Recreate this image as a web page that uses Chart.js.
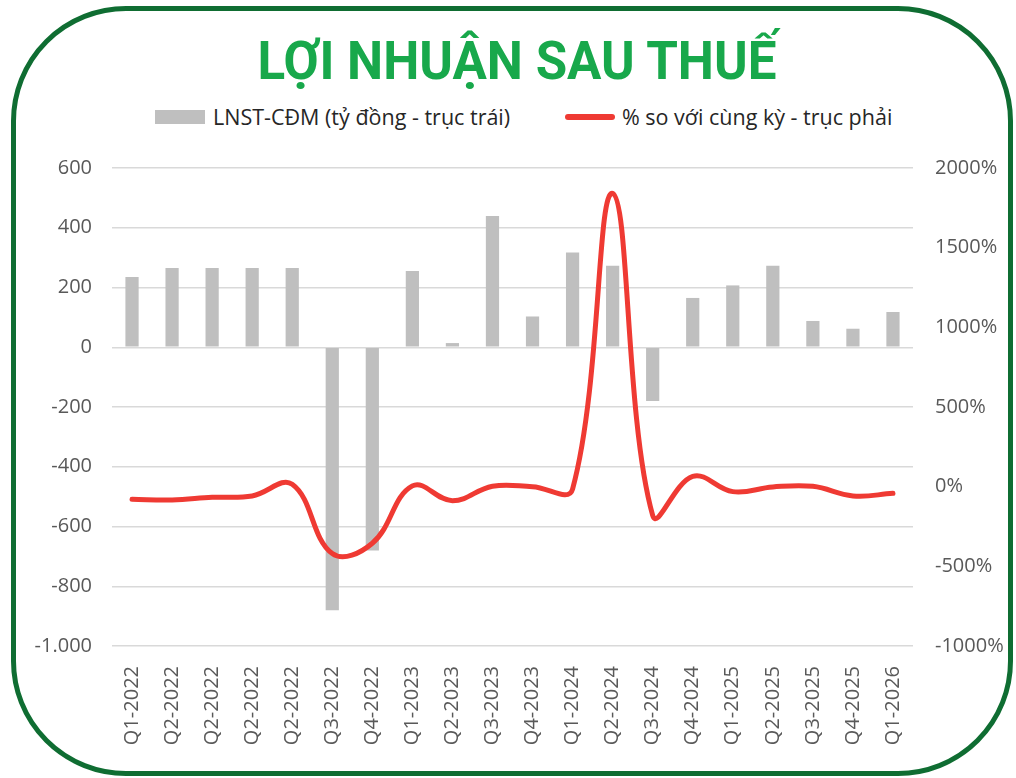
<!DOCTYPE html>
<html lang="vi">
<head>
  <meta charset="UTF-8">
  <title>Lợi nhuận sau thuế</title>
  <script src="https://cdn.jsdelivr.net/npm/chart.js"></script>
  <style>
  html, body {
    margin: 0;
    padding: 0;
    background: #ffffff;
  }
  #page {
    position: relative;
    width: 1016px;
    height: 778px;
    overflow: hidden;
  }
  /* green rounded frame */
  #frame {
    position: absolute;
    left: 11px;
    top: 6px;
    width: 1002px;
    height: 770px;
    box-sizing: border-box;
    border: 5px solid #0f6d32;
    border-radius: 115px;
  }
  #title {
    position: absolute;
    left: 9px;
    top: 29px;
    width: 1016px;
    text-align: center;
    font-family: Roboto, sans-serif;
    font-weight: 700;
    font-size: 53px;
    line-height: 64px;
    color: #18a84b;
  }
  #title span {
    display: inline-block;
    transform: scaleX(0.965);
  }
  .leg {
    position: absolute;
    top: 104px;
    height: 26px;
    font-family: "Open Sans", sans-serif;
    font-size: 21.5px;
    line-height: 26px;
    color: #262626;
    white-space: nowrap;
  }
  #box1 {
    position: absolute;
    left: 155px;
    top: 110px;
    width: 50px;
    height: 14px;
    background: #bfbfbf;
  }
  #box2 {
    position: absolute;
    left: 565px;
    top: 114px;
    width: 50px;
    height: 6px;
    border-radius: 3px;
    background: #ef3a33;
  }
  canvas {
    position: absolute;
    left: 0;
    top: 0;
  }
  </style>
</head>
<body>
<div id="page">
  <div id="frame"></div>
  <div id="title"><span>LỢI NHUẬN SAU THUẾ</span></div>
  <div id="box1"></div>
  <div class="leg" style="left: 213px;">LNST-CĐM (tỷ đồng - trục trái)</div>
  <div id="box2"></div>
  <div class="leg" style="left: 622px;">% so với cùng kỳ - trục phải</div>
  <canvas id="chart" width="1016" height="778"></canvas>
</div>

<script>
  // quarters on the x axis (as printed on the chart)
  var quarters = ['Q1-2022', 'Q2-2022', 'Q2-2022', 'Q2-2022', 'Q2-2022', 'Q3-2022', 'Q4-2022',
                  'Q1-2023', 'Q2-2023', 'Q3-2023', 'Q4-2023', 'Q1-2024', 'Q2-2024', 'Q3-2024',
                  'Q4-2024', 'Q1-2025', 'Q2-2025', 'Q3-2025', 'Q4-2025', 'Q1-2026'];

  // LNST-CĐM, tỷ đồng (left axis)
  var profit = [235, 265, 265, 265, 265, -880, -680, 255, 14, 439,
                103, 317, 273, -180, 165, 207, 273, 88, 62, 118];

  // % so với cùng kỳ (right axis)
  var yoyPct = [-79, -83, -67, -58, 15, -420, -355, 5, -88, 3,
                0, -15, 1840, -180, 65, -31, -2, 2, -58, -42];

  var leftTicks = [600, 400, 200, 0, -200, -400, -600, -800, -1000];
  var rightTicks = [2000, 1500, 1000, 500, 0, -500, -1000];

  var tickFont = { family: 'Open Sans', size: 20 };
  var tickColor = '#595959';

  new Chart('chart', {
    data: {
      labels: quarters,
      datasets: [{
        type: 'line',
        label: '% so với cùng kỳ - trục phải',
        data: yoyPct,
        yAxisID: 'y1',
        borderColor: '#ef3a33',
        borderWidth: 5,
        borderCapStyle: 'round',
        pointRadius: 0,
        tension: 0.4,
        fill: false,
        order: 0
      }, {
        type: 'bar',
        label: 'LNST-CĐM (tỷ đồng - trục trái)',
        data: profit,
        yAxisID: 'y',
        backgroundColor: '#bfbfbf',
        categoryPercentage: 1,
        barPercentage: 0.33,
        order: 1
      }]
    },
    options: {
      responsive: false,
      animation: false,
      layout: { padding: { top: 168, left: 0, right: 0, bottom: 0 } },
      plugins: {
        legend: { display: false },
        title: { display: false },
        tooltip: { enabled: false }
      },
      scales: {
        x: {
          grid: { display: false },
          border: { display: false },
          ticks: {
            font: tickFont,
            color: tickColor,
            minRotation: 90,
            maxRotation: 90,
            autoSkip: false,
            padding: 12
          },
          afterFit: function (scale) { scale.height = 132; }
        },
        y: {
          position: 'left',
          min: -1000,
          max: 600,
          afterBuildTicks: function (scale) {
            scale.ticks = leftTicks.map(function (v) { return { value: v }; });
          },
          grid: { color: '#d9d9d9', lineWidth: 1.5, drawTicks: false },
          border: { display: false },
          ticks: {
            font: tickFont,
            color: tickColor,
            padding: 20,
            callback: function (v) {
              return v.toLocaleString('de-DE');
            }
          },
          afterFit: function (scale) { scale.width = 112; }
        },
        y1: {
          position: 'right',
          min: -1000,
          max: 2000,
          afterBuildTicks: function (scale) {
            scale.ticks = rightTicks.map(function (v) { return { value: v }; });
          },
          grid: { display: false, drawTicks: false },
          border: { display: false },
          ticks: {
            font: tickFont,
            color: tickColor,
            padding: 22,
            callback: function (v) { return v + '%'; }
          },
          afterFit: function (scale) { scale.width = 103; }
        }
      }
    }
  });
</script>
</body>
</html>
